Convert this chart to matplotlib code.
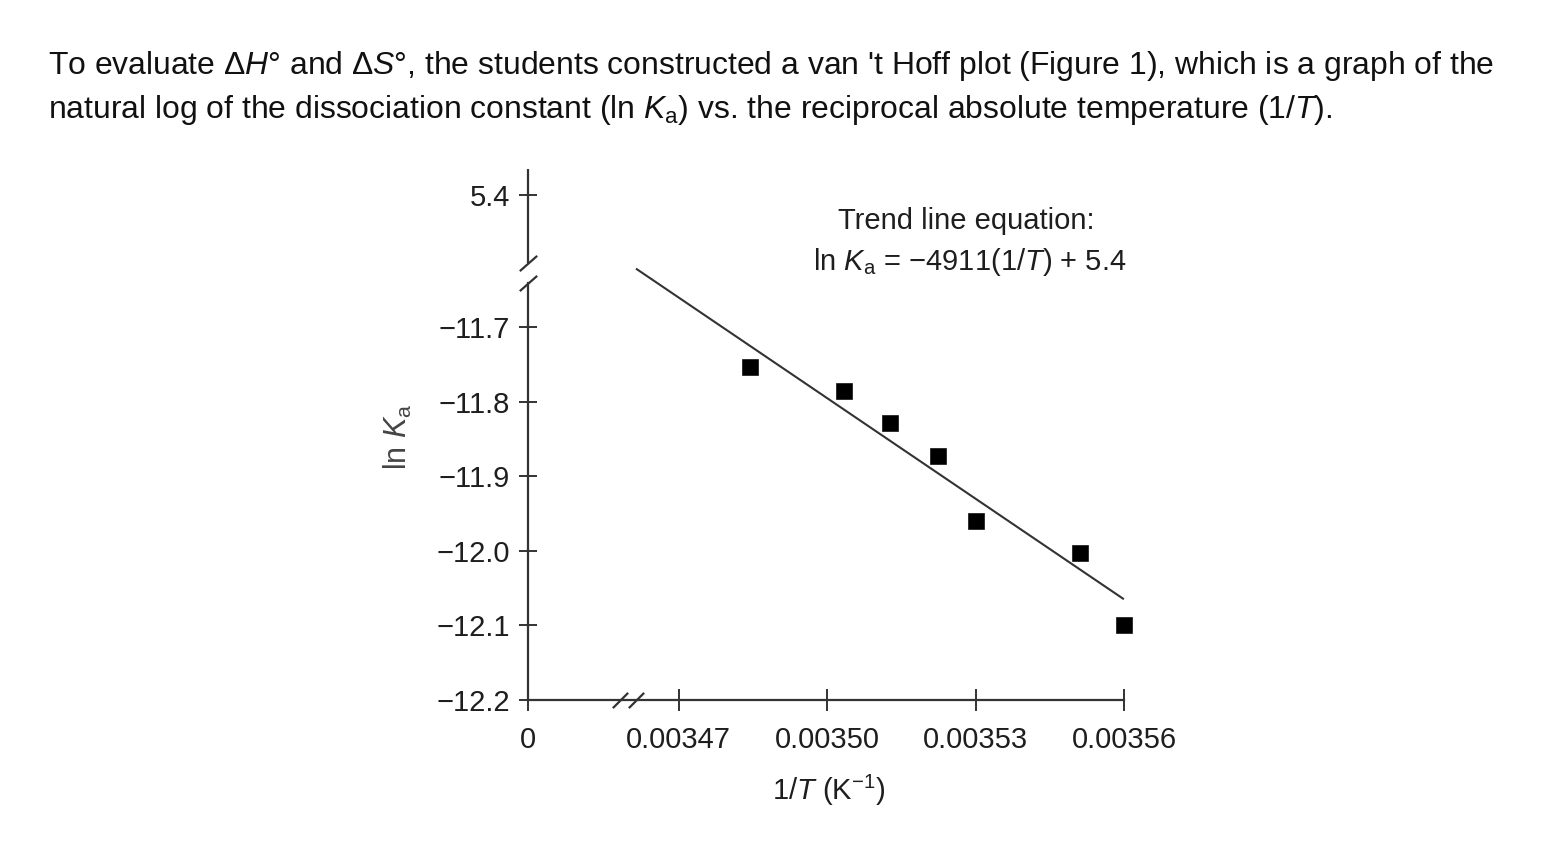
import numpy as np
import matplotlib
matplotlib.use("Agg")
import matplotlib.pyplot as plt
from matplotlib.ticker import FixedLocator, FixedFormatter

plt.rcParams['font.family'] = ['Liberation Sans', 'DejaVu Sans']
plt.rcParams['mathtext.fontset'] = 'custom'
plt.rcParams['mathtext.rm'] = 'Liberation Sans'
plt.rcParams['mathtext.it'] = 'Liberation Sans:italic'
plt.rcParams['mathtext.bf'] = 'Liberation Sans:bold'

# ---------------- data ----------------
inv_T = [0.0034844, 0.0035034, 0.0035127, 0.0035224, 0.0035301, 0.0035511, 0.0035600]
ln_Ka = [-11.753, -11.786, -11.829, -11.872, -11.960, -12.003, -12.100]
trend_x = [0.0034615, 0.0035598]
trend_y = [-11.622, -12.064]
xtick_values = [0.0, 0.00347, 0.00350, 0.00353, 0.00356]
xtick_labels = ["0", "0.00347", "0.00350", "0.00353", "0.00356"]
ytick_values = [5.4, -11.7, -11.8, -11.9, -12.0, -12.1, -12.2]
ytick_labels = ["5.4", "\u221211.7", "\u221211.8", "\u221211.9", "\u221212.0", "\u221212.1", "\u221212.2"]

# ---------------- broken-axis scales ----------------
X_ZERO_AT = 0.0034395   # where x = 0 sits on the compressed axis
Y_TOP_AT = -11.5226     # where y = 5.4 sits on the compressed axis


def fx(x):
    x = np.asarray(x, dtype=float)
    return np.where(x < 0.001, x + X_ZERO_AT, x)


def fx_inv(u):
    u = np.asarray(u, dtype=float)
    return np.where(u < 0.00345, u - X_ZERO_AT, u)


def fy(y):
    y = np.asarray(y, dtype=float)
    return np.where(y > 0, y - 5.4 + Y_TOP_AT, y)


def fy_inv(v):
    v = np.asarray(v, dtype=float)
    return np.where(v > -11.6, v + 5.4 - Y_TOP_AT, v)


W, H = 1550, 852
fig = plt.figure(figsize=(W / 100, H / 100), dpi=100)
fig.patch.set_facecolor('white')

ax_left, ax_right, ax_top, ax_bot = 528, 1124, 169, 700
ax = fig.add_axes([ax_left / W, 1 - ax_bot / H, (ax_right - ax_left) / W, (ax_bot - ax_top) / H])
ax.set_xscale('function', functions=(fx, fx_inv))
ax.set_yscale('function', functions=(fy, fy_inv))
ax.set_xlim(0.0, 0.00356)
ax.set_ylim(-12.2, 5.435)

LINE_C = '#333333'
TEXT_C = '#1e1e1e'

# spines
for s in ['top', 'right']:
    ax.spines[s].set_visible(False)
ax.spines['bottom'].set_color(LINE_C)
ax.spines['bottom'].set_linewidth(1.6)
ax.spines['left'].set_color(LINE_C)
ax.spines['left'].set_linewidth(1.6)
y_break_lo, y_break_hi = -11.6402, -11.6133
ax.spines['left'].set_bounds(-12.2, y_break_lo)
ax.plot([0, 0], [y_break_hi, 5.435], transform=ax.get_yaxis_transform(),
        color=LINE_C, lw=1.6, clip_on=False, solid_capstyle='butt')

# break marks
ax.plot([0, 0], [y_break_hi, y_break_lo], transform=ax.get_yaxis_transform(),
        linestyle='none', marker=[(-1, -0.88), (1, 0.88)], markersize=12.5,
        mew=1.6, mec=LINE_C, clip_on=False)
ax.plot([0.0034581, 0.0034613], [0, 0], transform=ax.get_xaxis_transform(),
        linestyle='none', marker=[(-1, -1), (1, 1)], markersize=11,
        mew=1.6, mec=LINE_C, clip_on=False)

# ticks
ax.xaxis.set_major_locator(FixedLocator(xtick_values))
ax.xaxis.set_major_formatter(FixedFormatter(xtick_labels))
ax.yaxis.set_major_locator(FixedLocator(ytick_values))
ax.yaxis.set_major_formatter(FixedFormatter(ytick_labels))
ax.xaxis.set_minor_locator(FixedLocator([]))
ax.yaxis.set_minor_locator(FixedLocator([]))
ax.tick_params(axis='x', direction='inout', length=15.8, width=1.4, color=LINE_C,
               pad=11, labelsize=21, labelcolor=TEXT_C)
ax.tick_params(axis='y', direction='inout', length=13, width=1.4, color=LINE_C,
               pad=6.5, labelsize=21, labelcolor=TEXT_C)

# data
ax.plot(trend_x, trend_y, color=LINE_C, lw=1.5, clip_on=False)
ax.plot(inv_T, ln_Ka, linestyle='none', marker='s', markersize=11.2,
        color='black', mec='#111111', mew=0.5, clip_on=False, zorder=5)

# labels
fig.text(398 / W, 1 - 437 / H, r"ln $\mathit{K}_{\mathrm{a}}$", rotation=90,
         ha='center', va='center', fontsize=22, color='#444444')
fig.text(829 / W, 1 - 790 / H, r"1/$\mathit{T}$ (K$^{-1}$)",
         ha='center', va='center', fontsize=21, color=TEXT_C)

fig.text(966 / W, 1 - 229 / H, "Trend line equation:", ha='center', va='baseline',
         fontsize=21, color=TEXT_C)
fig.text(970 / W, 1 - 270 / H,
         r"ln $\mathit{K}_{\mathrm{a}}$ = $-$4911(1/$\mathit{T}$) + 5.4",
         ha='center', va='baseline', fontsize=21, color=TEXT_C)

# paragraph
fig.text(48 / W, 1 - 74 / H,
         r"To evaluate Δ$\mathit{H}$° and Δ$\mathit{S}$°, the students constructed a van 't Hoff plot (Figure 1), which is a graph of the",
         ha='left', va='baseline', fontsize=22.95, color='#111111')
fig.text(48 / W, 1 - 118 / H,
         r"natural log of the dissociation constant (ln $\mathit{K}_{\mathrm{a}}$) vs. the reciprocal absolute temperature (1/$\mathit{T}$).",
         ha='left', va='baseline', fontsize=22.95, color='#111111')

fig.savefig('out.png', dpi=100, facecolor='white')
